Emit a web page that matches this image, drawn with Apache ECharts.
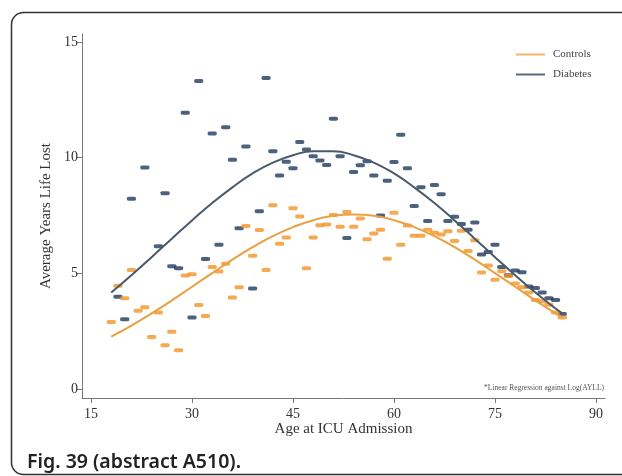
<!DOCTYPE html>
<html><head><meta charset="utf-8">
<script src="https://cdn.jsdelivr.net/npm/echarts@6/dist/echarts.min.js"></script>
<style>html,body{margin:0;padding:0;background:#fff}#c{width:622px;height:476px}</style>
</head><body><div id="c"></div>
<script>
const xTicks = [15, 30, 45, 60, 75, 90];
const yTicks = [0, 5, 10, 15];

const diabetesAges = [19,20,21,23,25,26,27,28,29,30,31,32,33,34,35,36,37,38,39,40,41,42,43,44,45,46,47,48,49,50,51,52,53,54,55,56,57,58,59,60,61,62,63,64,65,66,67,68,69,70,71,72,73,74,75,76,77,78,79,80,81,82,83,84,85];
const diabetesValues = [3.99,3.02,8.23,9.58,6.17,8.46,5.31,5.22,11.94,3.09,13.32,5.62,11.05,6.24,11.32,9.91,6.95,10.49,4.35,7.69,13.45,10.28,9.23,9.83,9.54,10.68,10.36,10.06,9.88,9.68,11.68,10.06,6.53,9.38,9.67,9.85,9.23,7.50,9.00,9.81,10.99,9.54,7.91,8.72,7.26,8.82,8.42,7.26,7.45,7.13,6.89,7.20,5.81,5.92,6.24,5.27,4.92,5.12,5.05,4.43,4.37,4.17,3.92,3.85,3.24];

const controlsAges = [18,19,20,21,22,23,24,25,26,27,28,29,30,31,32,33,34,35,36,37,38,39,40,41,42,43,44,45,46,47,48,49,50,51,52,53,54,55,56,57,58,59,60,61,62,63,64,65,66,67,68,69,70,71,72,73,74,75,76,77,78,79,80,81,82,83,84,85];
const controlsValues = [2.90,4.46,3.92,5.15,3.38,3.53,2.25,3.31,1.89,2.48,1.67,4.91,4.96,3.63,3.16,5.27,5.08,5.41,3.96,4.40,7.05,5.76,6.88,5.15,7.94,6.28,6.55,7.81,7.46,5.22,6.55,7.08,7.11,7.52,7.01,7.65,7.01,7.37,6.47,6.72,6.89,5.63,7.62,6.24,7.07,6.63,6.63,6.89,6.76,6.68,6.82,6.40,6.84,5.97,6.43,5.04,5.34,4.72,5.09,4.89,4.56,4.40,4.17,3.85,3.79,3.64,3.31,3.09];

const fitAges = [18,21,24,27,30,33,36,39,42,45,48,51,54,57,60,63,66,69,72,75,78,81,84,85];
const diabetesFit = [4.17,4.92,5.70,6.50,7.29,8.04,8.72,9.32,9.79,10.11,10.28,10.28,10.11,9.79,9.32,8.72,8.04,7.29,6.50,5.70,4.92,4.17,3.48,3.27];
const controlsFit = [2.26,2.74,3.27,3.83,4.42,5.01,5.59,6.13,6.61,7.00,7.30,7.49,7.55,7.49,7.30,7.00,6.61,6.13,5.59,5.01,4.42,3.83,3.27,3.09];

const zip = (a, b) => a.map((v, i) => [v, b[i]]);
const serif = 'Liberation Serif';

const chart = echarts.init(document.getElementById('c'), null, {renderer: 'canvas'});
chart.setOption({
  animation: false,
  backgroundColor: '#fff',
  grid: {left: 82, right: 17, top: 34, bottom: 78, containLabel: false},
  xAxis: {
    type: 'value', min: 13.66, max: 91.34,
    name: 'Age at ICU Admission', nameLocation: 'middle', nameGap: 24, nameMoveOverlap: false,
    nameTextStyle: {fontFamily: serif, fontSize: 15, color: '#333'},
    axisLine: {show: true, onZero: false, lineStyle: {color: '#777', width: 1}},
    axisTick: {show: true, customValues: xTicks, length: 5, lineStyle: {color: '#777'}},
    axisLabel: {customValues: xTicks, fontFamily: serif, fontSize: 14, color: '#333', margin: 9},
    splitLine: {show: false}
  },
  yAxis: {
    type: 'value', min: -0.39, max: 15.35,
    name: 'Average Years Life Lost', nameLocation: 'middle', nameGap: 28, nameRotate: 90, nameMoveOverlap: false,
    nameTextStyle: {fontFamily: serif, fontSize: 15, color: '#333'},
    axisLine: {show: true, onZero: false, lineStyle: {color: '#777', width: 1}},
    axisTick: {show: true, customValues: yTicks, length: 6, lineStyle: {color: '#777'}},
    axisLabel: {customValues: yTicks, fontFamily: serif, fontSize: 14, color: '#333', margin: 4},
    splitLine: {show: false}
  },
  legend: {
    orient: 'vertical', left: 511, top: 44, itemGap: 9,
    itemWidth: 29, itemHeight: 2, icon: 'rect',
    textStyle: {fontFamily: serif, fontSize: 11, color: '#444', padding: [0, 0, 0, 3]},
    data: [
      {name: 'Controls', itemStyle: {color: '#f2b66c'}},
      {name: 'Diabetes', itemStyle: {color: '#5b6977'}}
    ]
  },
  series: [
    {name: 'Diabetes points', type: 'scatter', data: zip(diabetesAges, diabetesValues),
     symbol: 'roundRect', symbolSize: [9, 4], itemStyle: {color: '#1f3a5c'}, z: 2},
    {name: 'Controls points', type: 'scatter', data: zip(controlsAges, controlsValues),
     symbol: 'roundRect', symbolSize: [9, 4], itemStyle: {color: '#f29426'}, z: 3},
    {name: 'Controls', type: 'line', data: zip(fitAges, controlsFit), smooth: true,
     showSymbol: false, symbol: 'none', itemStyle: {color: '#e9a040'}, lineStyle: {color: '#e9a040', width: 2}, z: 4},
    {name: 'Diabetes', type: 'line', data: zip(fitAges, diabetesFit), smooth: true,
     showSymbol: false, symbol: 'none', itemStyle: {color: '#4b5a6a'}, lineStyle: {color: '#4b5a6a', width: 2}, z: 5}
  ],
  graphic: [
    {type: 'rect', shape: {x: 11.5, y: 12.5, width: 700, height: 462, r: 12},
     style: {fill: 'none', stroke: '#333', lineWidth: 1.5}, silent: true},
    {type: 'text', x: 604, y: 388,
     style: {text: '*Linear Regression against Log(AYLL)', fontFamily: serif, fontSize: 7.5, fill: '#555', align: 'right', verticalAlign: 'middle'}},
    {type: 'text', x: 27, y: 462,
     style: {text: 'Fig. 39 (abstract A510).', fontFamily: 'Noto Sans', fontWeight: 600, fontSize: 19.5, fill: '#222', align: 'left', verticalAlign: 'middle'}}
  ]
});
</script>
</body></html>
